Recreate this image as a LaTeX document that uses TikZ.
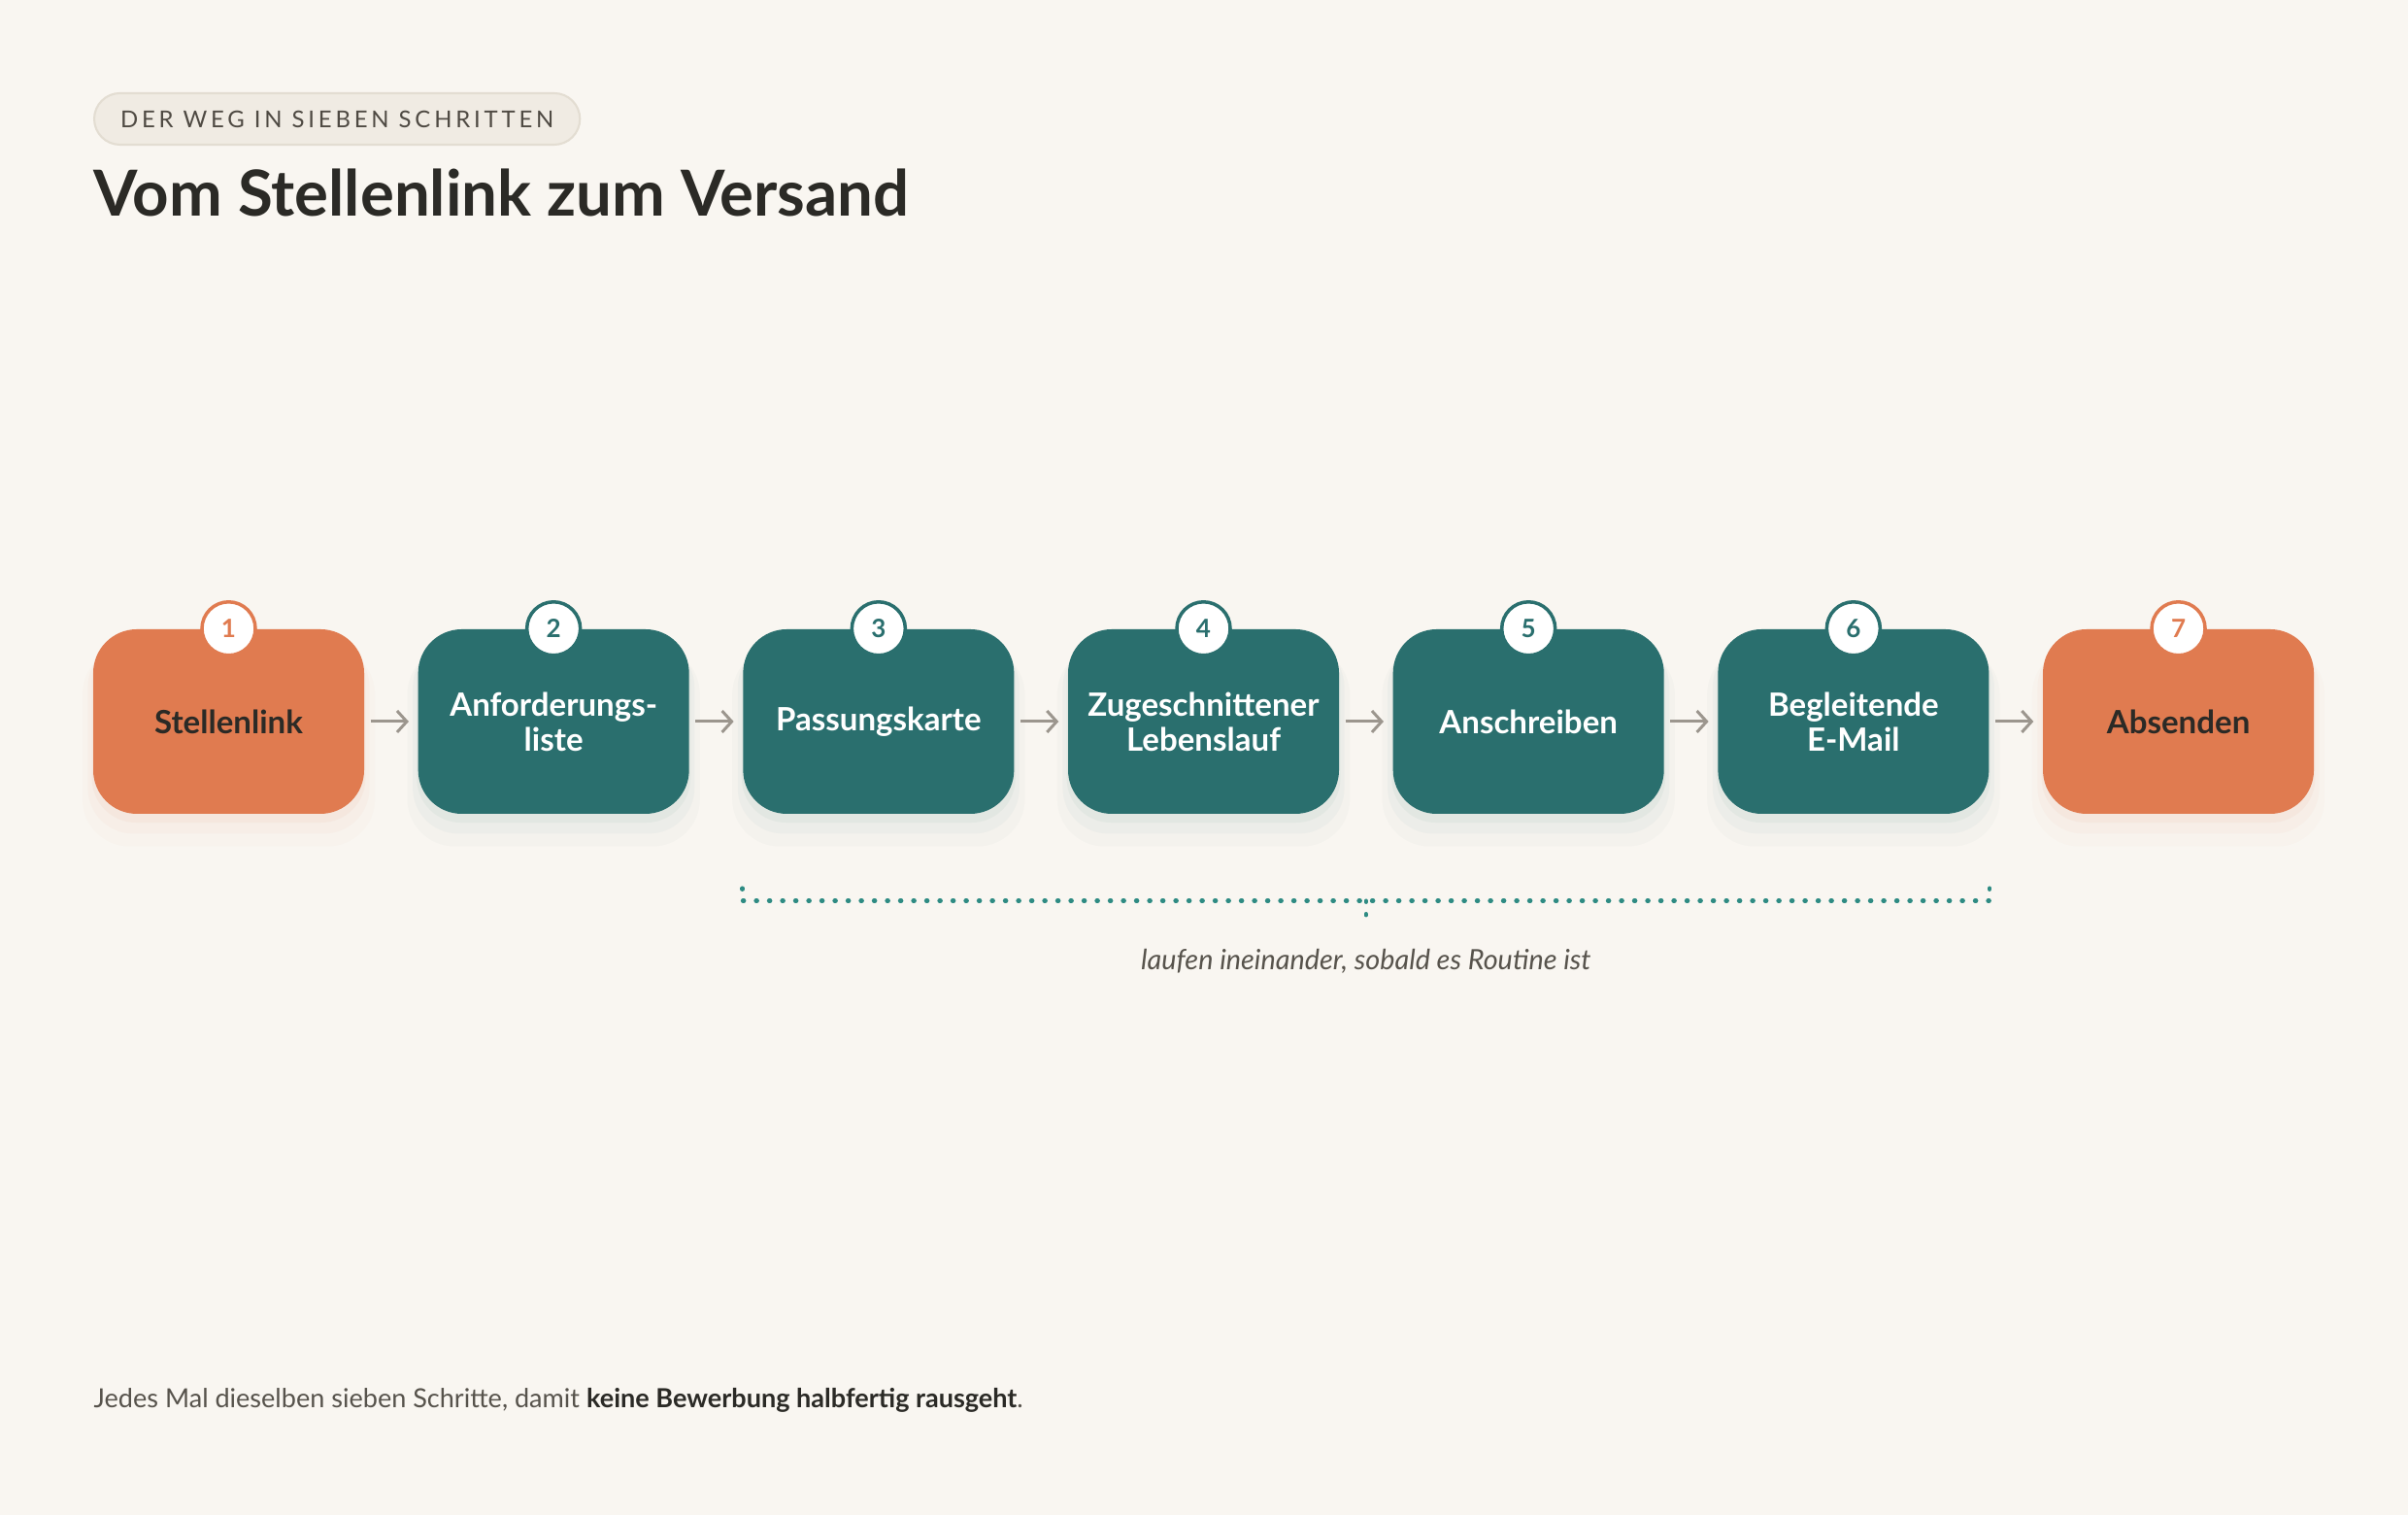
\documentclass[tikz,border=0pt]{standalone}
\usepackage{fontspec}
\setmainfont{Lato}
\usetikzlibrary{positioning,calc,arrows.meta,shadows}
\definecolor{paper}{HTML}{F9F6F1}
\definecolor{pillfill}{HTML}{F0EBE3}
\definecolor{pillline}{HTML}{E3DDD2}
\definecolor{ink}{HTML}{2B2A26}
\definecolor{softink}{HTML}{57534C}
\definecolor{tagink}{HTML}{4F4A43}
\definecolor{rust}{HTML}{E07B50}
\definecolor{stepteal}{HTML}{2A6F6E}
\definecolor{dotteal}{HTML}{2E8B83}
\definecolor{arrowgray}{HTML}{9C968E}

\tikzset{
  softshadow/.style={
    general shadow={shadow yshift=-0.08cm,shadow scale=1.01,opacity=0.05,fill=#1},
    general shadow={shadow yshift=-0.16cm,shadow scale=1.04,opacity=0.035,fill=#1},
    general shadow={shadow yshift=-0.24cm,shadow scale=1.08,opacity=0.025,fill=#1}},
  stepnode/.style={rectangle,rounded corners=0.45cm,minimum width=2.79cm,minimum height=1.9cm,
    inner sep=0pt,align=center,font=\fontsize{9.4}{10.3}\selectfont\bfseries},
  rustbox/.style={stepnode,softshadow=rust,fill=rust,text=ink},
  tealbox/.style={stepnode,softshadow=stepteal,fill=stepteal,text=white},
  numdot/.style={circle,fill=white,draw=#1,text=#1,line width=1pt,minimum size=0.55cm,
    inner sep=0pt,font=\fontsize{7.4}{8}\selectfont\bfseries},
  flow/.style={-{Straight Barb[length=0.1cm,width=0.22cm]},draw=arrowgray,line width=0.85pt,
    shorten <=0.06cm,shorten >=0.09cm},
  dotline/.style={draw=dotteal,line width=0.045cm,line cap=round,dash pattern=on 0.01cm off 0.125cm}
}

\begin{document}
\begin{tikzpicture}[node distance=3.3467cm,on grid]
\useasboundingbox[fill=paper] (0,0) rectangle (24.8,15.6);

% header
\node[rectangle,rounded corners=0.265cm,fill=pillfill,draw=pillline,line width=0.6pt,
  minimum height=0.53cm,inner xsep=0.27cm,inner ysep=0pt,anchor=west,text=tagink,
  font=\fontsize{6.8}{7}\selectfont\addfontfeatures{LetterSpace=16}]
  (tag) at (0.96,14.375) {DER WEG IN SIEBEN SCHRITTEN};
\node[anchor=base west,inner sep=0pt,text=ink,font=\fontsize{18.6}{22}\selectfont\bfseries]
  (title) at (0.96,13.37) {Vom Stellenlink zum Versand};

% steps
\node[rustbox] (s1) at (2.355,8.17) {Stellenlink};
\node[tealbox] (s2) [right=of s1] {Anforderungs-\\liste};
\node[tealbox] (s3) [right=of s2] {Passungskarte};
\node[tealbox] (s4) [right=of s3] {Zugeschnittener\\Lebenslauf};
\node[tealbox] (s5) [right=of s4] {Anschreiben};
\node[tealbox] (s6) [right=of s5] {Begleitende\\E-Mail};
\node[rustbox] (s7) [right=of s6] {Absenden};

\node[numdot=rust] (n1) at (s1.north) {1};
\node[numdot=stepteal] (n2) at (s2.north) {2};
\node[numdot=stepteal] (n3) at (s3.north) {3};
\node[numdot=stepteal] (n4) at (s4.north) {4};
\node[numdot=stepteal] (n5) at (s5.north) {5};
\node[numdot=stepteal] (n6) at (s6.north) {6};
\node[numdot=rust] (n7) at (s7.north) {7};

\draw[flow] (s1) -- (s2);
\draw[flow] (s2) -- (s3);
\draw[flow] (s3) -- (s4);
\draw[flow] (s4) -- (s5);
\draw[flow] (s5) -- (s6);
\draw[flow] (s6) -- (s7);

% bracket under 3..6
\coordinate (bl) at ($(s3.south west)+(0,-0.89)$);
\coordinate (br) at ($(s6.south east)+(0,-0.89)$);
\coordinate (blt) at ($(bl)+(0,0.13)$);
\coordinate (brt) at ($(br)+(0,0.13)$);
\coordinate (bm) at ($(bl)!0.5!(br)$);
\coordinate (bmt) at ($(bm)+(0,-0.26)$);
\draw[dotline] (blt) -- (bl) -- (br) -- (brt);
\draw[dotline] (bm) -- (bmt);
\node[anchor=base,inner sep=0pt,text=softink,font=\fontsize{8.2}{9}\selectfont\itshape]
  (note) at ($(bm)+(0,-0.71)$) {laufen ineinander, sobald es Routine ist};

% footer
\node[anchor=base west,inner sep=0pt,text=softink,font=\fontsize{7.7}{9}\selectfont]
  (foot) at (0.96,1.10) {Jedes Mal dieselben sieben Schritte, damit \textcolor{ink}{\bfseries keine Bewerbung halbfertig rausgeht}.};
\end{tikzpicture}
\end{document}
